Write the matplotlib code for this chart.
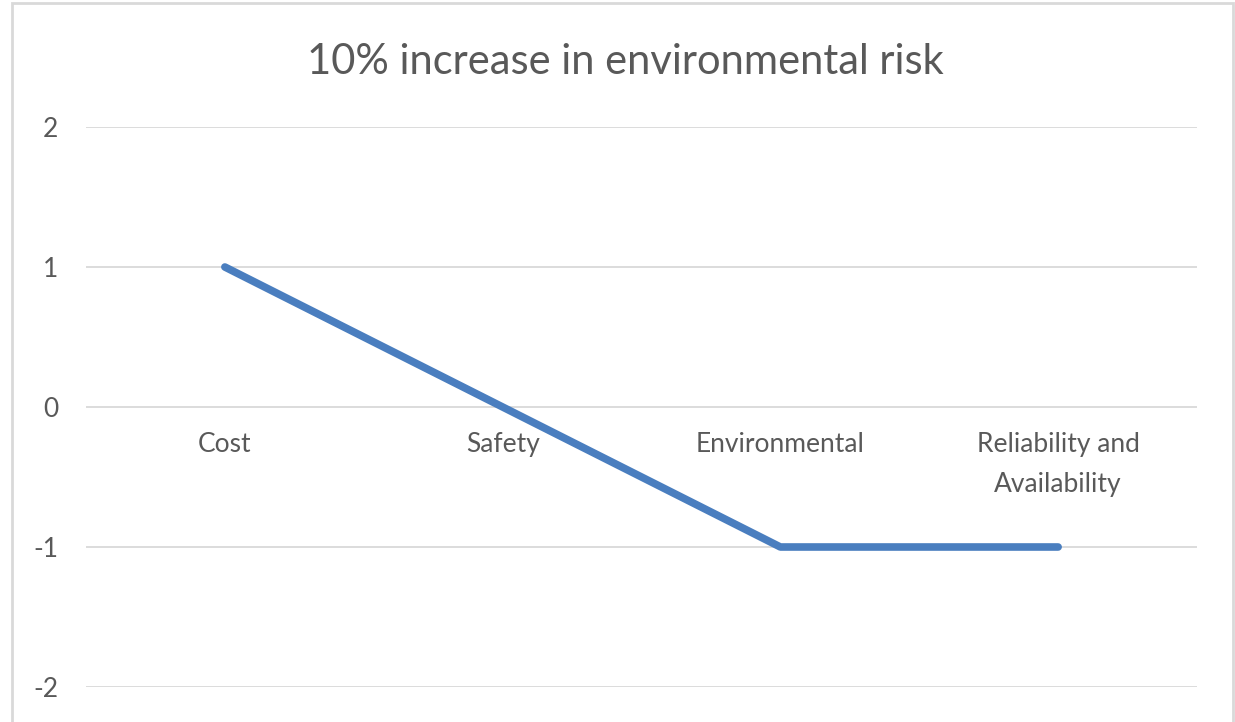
import matplotlib
matplotlib.use("Agg")
import matplotlib.pyplot as plt
from matplotlib.patches import Rectangle

categories = ["Cost", "Safety", "Environmental", "Reliability and\nAvailability"]
values = [1, 0, -1, -1]
yticks = [-2, -1, 0, 1, 2]
title = "10% increase in environmental risk"

plt.rcParams['font.family'] = ['Lato', 'DejaVu Sans']
W, H = 1235, 722
fig = plt.figure(figsize=(W / 100, H / 100), dpi=100)
ax = fig.add_axes([86 / W, 1 - 687 / H, (1197 - 86) / W, (687 - 127) / H])

x = list(range(len(categories)))
ax.plot(x, values, color="#4a7ebf", linewidth=5.5, solid_capstyle="round", solid_joinstyle="round", zorder=3)
ax.set_xlim(-0.5, len(categories) - 0.5)
ax.set_ylim(min(yticks), max(yticks))
ax.set_yticks(yticks)
ax.set_yticklabels([str(t) for t in yticks])
ax.set_xticks([])
ax.grid(axis="y", color="#d9d9d9", linewidth=1.3)
ax.set_axisbelow(True)
for s in ax.spines.values():
    s.set_visible(False)
ax.tick_params(axis="y", length=0, pad=20, labelsize=19, labelcolor="#595959")

for xi, lab in zip(x, categories):
    ax.annotate(lab, xy=(xi, 0), xytext=(0, -18), textcoords="offset points",
                ha="center", va="top", fontsize=19, color="#595959", linespacing=1.75)

fig.text(625 / W, 1 - 62 / H, title, ha="center", va="center", fontsize=30, color="#595959")

fig.patches.append(Rectangle((12 / W, -0.05), (1233 - 12) / W, 1 - 3 / H + 0.05,
                             transform=fig.transFigure, fill=False, edgecolor="#d9d9d9", linewidth=2))

fig.savefig("out.png", dpi=100, facecolor="white")
